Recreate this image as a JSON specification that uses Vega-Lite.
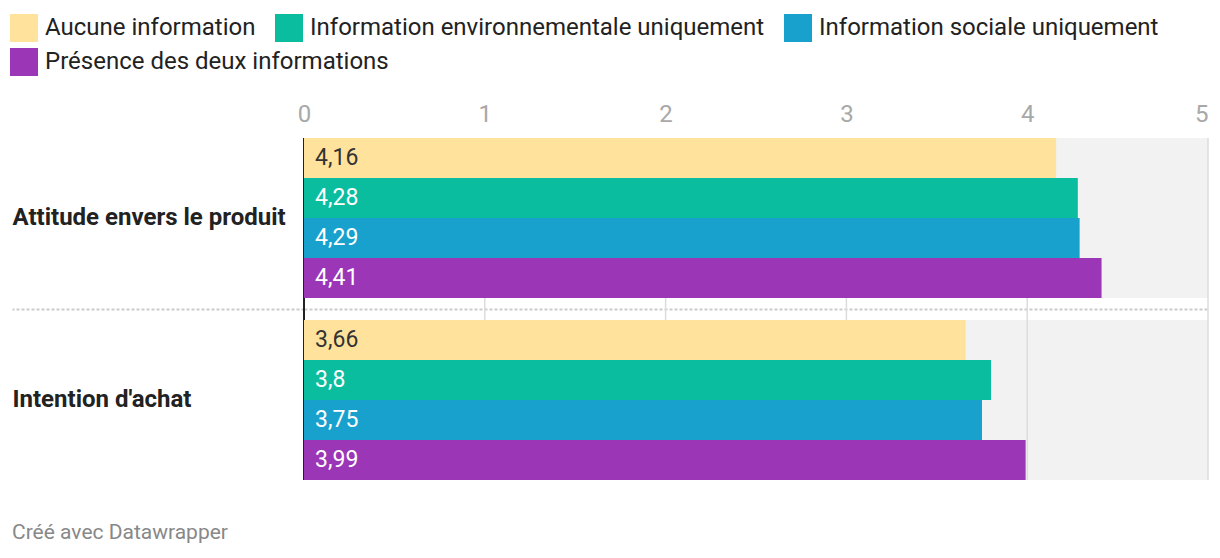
{
  "$schema": "https://vega.github.io/schema/vega-lite/v6.json",
  "width": 904,
  "height": 342,
  "autosize": "none",
  "padding": {"left": 304, "top": 138, "right": 12, "bottom": 78},
  "background": "white",
  "config": {
    "font": "Roboto",
    "view": {"stroke": null},
    "axisX": {
      "domain": false,
      "ticks": false,
      "grid": false,
      "labelFontSize": 24,
      "labelColor": "#a8a8a8",
      "labelPadding": 12,
      "labelFlush": false,
      "labelAlign": {"expr": "datum.value == 5 ? 'right' : 'center'"},
      "title": null
    },
    "locale": {"number": {"decimal": ",", "thousands": " ", "grouping": [3], "currency": ["", " €"]}}
  },
  "title": {
    "text": "Créé avec Datawrapper",
    "orient": "bottom",
    "anchor": "start",
    "frame": "group",
    "dx": -292,
    "offset": 41,
    "fontSize": 21,
    "fontWeight": "normal",
    "color": "#888888",
    "font": "Roboto"
  },
  "datasets": {
    "bars": [
      {"group": "Attitude envers le produit", "serie": "Aucune information", "value": 4.16},
      {"group": "Attitude envers le produit", "serie": "Information environnementale uniquement", "value": 4.28},
      {"group": "Attitude envers le produit", "serie": "Information sociale uniquement", "value": 4.29},
      {"group": "Attitude envers le produit", "serie": "Présence des deux informations", "value": 4.41},
      {"group": "Intention d'achat", "serie": "Aucune information", "value": 3.66},
      {"group": "Intention d'achat", "serie": "Information environnementale uniquement", "value": 3.8},
      {"group": "Intention d'achat", "serie": "Information sociale uniquement", "value": 3.75},
      {"group": "Intention d'achat", "serie": "Présence des deux informations", "value": 3.99}
    ],
    "grid": [{"v": 1}, {"v": 2}, {"v": 3}, {"v": 4}, {"v": 5}],
    "zero": [{"v": 0}]
  },
  "layer": [
    {
      "data": {"name": "bars"},
      "mark": {"type": "bar", "color": "#f2f2f2"},
      "encoding": {
        "x": {"datum": 5, "type": "quantitative", "title": null, "scale": {"domain": [0, 5], "nice": false, "zero": true}, "axis": {"orient": "top", "values": [0, 1, 2, 3, 4, 5]}},
        "y": {
          "field": "group",
          "type": "nominal",
          "sort": ["Attitude envers le produit", "Intention d'achat"],
          "scale": {"paddingInner": 0.1209, "paddingOuter": 0},
          "axis": {
            "orient": "left",
            "values": ["Intention d'achat"],
            "bandPosition": 0,
            "tickOffset": -11,
            "labels": false,
            "domain": false,
            "ticks": true,
            "tickSize": 292,
            "tickColor": "#cccccc",
            "tickDash": [3, 2],
            "tickWidth": 2,
            "grid": true,
            "gridColor": "#cccccc",
            "gridDash": [3, 2],
            "gridWidth": 2,
            "title": null
          }
        }
      }
    },
    {
      "data": {"name": "grid"},
      "mark": {"type": "rule", "color": "#dcdcdc", "strokeWidth": 1.5},
      "encoding": {
        "x": {"field": "v", "type": "quantitative", "title": null, "axis": {"orient": "top", "values": [0, 1, 2, 3, 4, 5]}}
      }
    },
    {
      "data": {"name": "zero"},
      "mark": {"type": "rule", "color": "#222222", "strokeWidth": 2},
      "encoding": {
        "x": {"field": "v", "type": "quantitative", "title": null, "axis": {"orient": "top", "values": [0, 1, 2, 3, 4, 5]}}
      }
    },
    {
      "data": {"name": "bars"},
      "mark": {"type": "bar"},
      "encoding": {
        "x": {"field": "value", "type": "quantitative", "title": null, "axis": {"orient": "top", "values": [0, 1, 2, 3, 4, 5]}},
        "y": {
          "field": "group",
          "type": "nominal",
          "sort": ["Attitude envers le produit", "Intention d'achat"],
          "axis": {
            "orient": "left",
            "title": null,
            "domain": false,
            "ticks": false,
            "grid": false,
            "labelAlign": "left",
            "labelPadding": 292,
            "labelFontSize": 24,
            "labelFontWeight": "bold",
            "labelColor": "#222222",
            "labelLimit": 400
          }
        },
        "yOffset": {
          "field": "serie",
          "type": "nominal",
          "sort": ["Aucune information", "Information environnementale uniquement", "Information sociale uniquement", "Présence des deux informations"],
          "scale": {"paddingInner": 0, "paddingOuter": 0}
        },
        "color": {
          "field": "serie",
          "type": "nominal",
          "scale": {
            "domain": ["Aucune information", "Information environnementale uniquement", "Information sociale uniquement", "Présence des deux informations"],
            "range": ["#ffe39c", "#0abd9f", "#19a1cd", "#9b36b7"]
          },
          "legend": {
            "title": null,
            "orient": "none",
            "legendX": -294,
            "legendY": -124,
            "direction": "horizontal",
            "values": ["Aucune information", "Information environnementale uniquement", "Information sociale uniquement"],
            "symbolType": "square",
            "symbolSize": 784,
            "symbolStrokeWidth": 0,
            "symbolOpacity": 1,
            "labelFontSize": 24,
            "labelColor": "#222222",
            "labelOffset": 7,
            "columnPadding": 19,
            "labelLimit": 600,
            "padding": 0
          }
        }
      }
    },
    {
      "data": {"name": "bars"},
      "transform": [{"filter": "datum.serie === 'Présence des deux informations'"}],
      "mark": {"type": "bar"},
      "encoding": {
        "x": {"field": "value", "type": "quantitative", "title": null, "axis": {"orient": "top", "values": [0, 1, 2, 3, 4, 5]}},
        "y": {"field": "group", "type": "nominal", "sort": ["Attitude envers le produit", "Intention d'achat"], "axis": null},
        "yOffset": {
          "field": "serie",
          "type": "nominal",
          "sort": ["Aucune information", "Information environnementale uniquement", "Information sociale uniquement", "Présence des deux informations"],
          "scale": {"domain": ["Aucune information", "Information environnementale uniquement", "Information sociale uniquement", "Présence des deux informations"]}
        },
        "fill": {
          "field": "serie",
          "type": "nominal",
          "scale": {"domain": ["Présence des deux informations"], "range": ["#9b36b7"]},
          "legend": {
            "title": null,
            "orient": "none",
            "legendX": -294,
            "legendY": -90,
            "direction": "horizontal",
            "symbolType": "square",
            "symbolSize": 784,
            "symbolStrokeWidth": 0,
            "symbolOpacity": 1,
            "labelFontSize": 24,
            "labelColor": "#222222",
            "labelOffset": 7,
            "labelLimit": 600,
            "padding": 0
          }
        }
      }
    },
    {
      "data": {"name": "bars"},
      "mark": {"type": "text", "align": "left", "baseline": "middle", "dx": 11, "fontSize": 23},
      "encoding": {
        "x": {"datum": 0, "type": "quantitative", "title": null, "axis": {"orient": "top", "values": [0, 1, 2, 3, 4, 5]}},
        "y": {"field": "group", "type": "nominal", "sort": ["Attitude envers le produit", "Intention d'achat"], "axis": null},
        "yOffset": {
          "field": "serie",
          "type": "nominal",
          "sort": ["Aucune information", "Information environnementale uniquement", "Information sociale uniquement", "Présence des deux informations"]
        },
        "text": {"field": "value", "type": "quantitative", "format": "~g"},
        "color": {
          "condition": {"test": "datum.serie !== 'Aucune information'", "value": "#ffffff"},
          "value": "#333333"
        }
      }
    }
  ],
  "resolve": {"axis": {"y": "independent"}}
}
